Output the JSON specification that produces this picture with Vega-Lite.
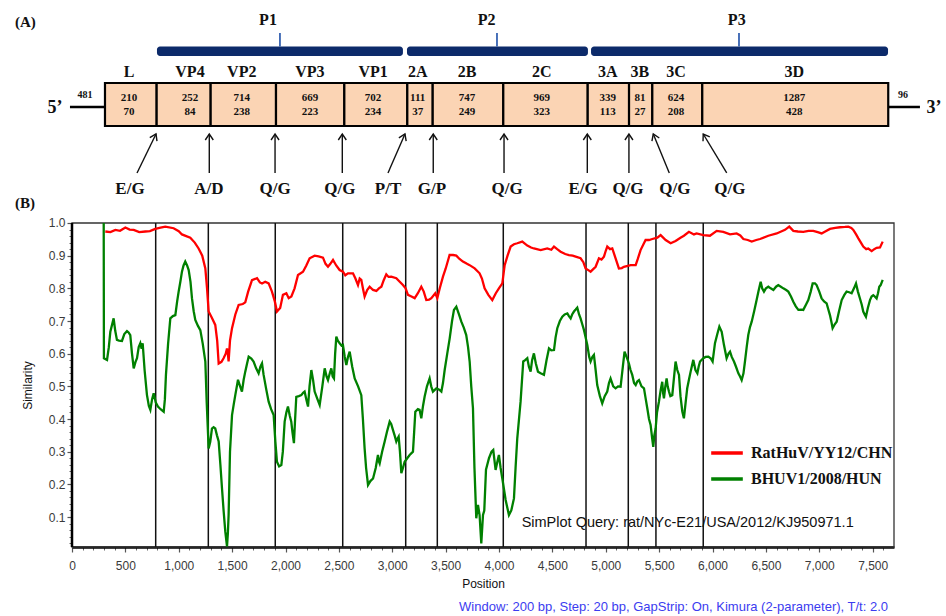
{
  "$schema": "https://vega.github.io/schema/vega-lite/v6.json",
  "width": 822,
  "height": 537,
  "autosize": {"type": "none"},
  "padding": {"left": 72, "top": 10, "right": 52, "bottom": 69},
  "background": "white",
  "config": {"view": {"stroke": null}, "axis": {"grid": false}},
  "datasets": {
    "segments": [
      {"gene": "L", "start": 309, "end": 793, "lx": 534, "nt": "210", "aa": "70"},
      {"gene": "VP4", "start": 793, "end": 1299, "lx": 1105, "nt": "252", "aa": "84"},
      {"gene": "VP2", "start": 1299, "end": 1911, "lx": 1590, "nt": "714", "aa": "238"},
      {"gene": "VP3", "start": 1911, "end": 2551, "lx": 2229, "nt": "669", "aa": "223"},
      {"gene": "VP1", "start": 2551, "end": 3141, "lx": 2820, "nt": "702", "aa": "234"},
      {"gene": "2A", "start": 3141, "end": 3379, "lx": 3238, "nt": "111", "aa": "37"},
      {"gene": "2B", "start": 3379, "end": 4040, "lx": 3700, "nt": "747", "aa": "249"},
      {"gene": "2C", "start": 4040, "end": 4831, "lx": 4400, "nt": "969", "aa": "323"},
      {"gene": "3A", "start": 4831, "end": 5218, "lx": 5018, "nt": "339", "aa": "113"},
      {"gene": "3B", "start": 5218, "end": 5436, "lx": 5320, "nt": "81", "aa": "27"},
      {"gene": "3C", "start": 5436, "end": 5904, "lx": 5658, "nt": "624", "aa": "208"},
      {"gene": "3D", "start": 5904, "end": 7646, "lx": 6766, "nt": "1287", "aa": "428"}
    ],
    "regions": [
      {"name": "P1", "start": 796, "end": 3100, "peak": 1948, "lx": 1836},
      {"name": "P2", "start": 3138, "end": 4833, "peak": 3981, "lx": 3884},
      {"name": "P3", "start": 4862, "end": 7644, "peak": 6248, "lx": 6227}
    ],
    "cleavages": [
      {"site": "E/G", "tip": 787, "base": 609, "lx": 543, "angle": 26},
      {"site": "A/D", "tip": 1286, "base": 1286, "lx": 1283, "angle": 0},
      {"site": "Q/G", "tip": 1902, "base": 1902, "lx": 1902, "angle": 0},
      {"site": "Q/G", "tip": 2532, "base": 2532, "lx": 2510, "angle": 0},
      {"site": "P/T", "tip": 3119, "base": 2960, "lx": 2960, "angle": 24},
      {"site": "G/P", "tip": 3384, "base": 3384, "lx": 3372, "angle": 0},
      {"site": "Q/G", "tip": 4047, "base": 4047, "lx": 4075, "angle": 0},
      {"site": "E/G", "tip": 4827, "base": 4827, "lx": 4787, "angle": 0},
      {"site": "Q/G", "tip": 5217, "base": 5217, "lx": 5208, "angle": 0},
      {"site": "Q/G", "tip": 5445, "base": 5595, "lx": 5648, "angle": -23},
      {"site": "Q/G", "tip": 5913, "base": 6133, "lx": 6162, "angle": -32}
    ],
    "utr": [
      {"end": "5", "from": -19, "to": 309, "len": "481", "lenx": 122, "tagx": -159, "tag": "5’"},
      {"end": "3", "from": 7644, "to": 7943, "len": "96", "lenx": 7784, "tagx": 8074, "tag": "3’"}
    ],
    "dividers": [
      {"position": 784}, {"position": 1277}, {"position": 1904}, {"position": 2536},
      {"position": 3126}, {"position": 3422}, {"position": 4040}, {"position": 4815},
      {"position": 5211}, {"position": 5470}, {"position": 5913}
    ],
    "sim": [
      {"position": 312, "similarity": 0.974, "strain": "RatHuV/YY12/CHN"},
      {"position": 360, "similarity": 0.972, "strain": "RatHuV/YY12/CHN"},
      {"position": 406, "similarity": 0.979, "strain": "RatHuV/YY12/CHN"},
      {"position": 450, "similarity": 0.976, "strain": "RatHuV/YY12/CHN"},
      {"position": 500, "similarity": 0.986, "strain": "RatHuV/YY12/CHN"},
      {"position": 540, "similarity": 0.98, "strain": "RatHuV/YY12/CHN"},
      {"position": 578, "similarity": 0.979, "strain": "RatHuV/YY12/CHN"},
      {"position": 630, "similarity": 0.972, "strain": "RatHuV/YY12/CHN"},
      {"position": 687, "similarity": 0.974, "strain": "RatHuV/YY12/CHN"},
      {"position": 730, "similarity": 0.975, "strain": "RatHuV/YY12/CHN"},
      {"position": 780, "similarity": 0.982, "strain": "RatHuV/YY12/CHN"},
      {"position": 830, "similarity": 0.986, "strain": "RatHuV/YY12/CHN"},
      {"position": 874, "similarity": 0.989, "strain": "RatHuV/YY12/CHN"},
      {"position": 952, "similarity": 0.984, "strain": "RatHuV/YY12/CHN"},
      {"position": 1000, "similarity": 0.975, "strain": "RatHuV/YY12/CHN"},
      {"position": 1030, "similarity": 0.965, "strain": "RatHuV/YY12/CHN"},
      {"position": 1070, "similarity": 0.96, "strain": "RatHuV/YY12/CHN"},
      {"position": 1108, "similarity": 0.955, "strain": "RatHuV/YY12/CHN"},
      {"position": 1150, "similarity": 0.94, "strain": "RatHuV/YY12/CHN"},
      {"position": 1186, "similarity": 0.922, "strain": "RatHuV/YY12/CHN"},
      {"position": 1220, "similarity": 0.9, "strain": "RatHuV/YY12/CHN"},
      {"position": 1249, "similarity": 0.861, "strain": "RatHuV/YY12/CHN"},
      {"position": 1265, "similarity": 0.8, "strain": "RatHuV/YY12/CHN"},
      {"position": 1280, "similarity": 0.729, "strain": "RatHuV/YY12/CHN"},
      {"position": 1310, "similarity": 0.71, "strain": "RatHuV/YY12/CHN"},
      {"position": 1342, "similarity": 0.688, "strain": "RatHuV/YY12/CHN"},
      {"position": 1360, "similarity": 0.64, "strain": "RatHuV/YY12/CHN"},
      {"position": 1374, "similarity": 0.57, "strain": "RatHuV/YY12/CHN"},
      {"position": 1400, "similarity": 0.575, "strain": "RatHuV/YY12/CHN"},
      {"position": 1420, "similarity": 0.586, "strain": "RatHuV/YY12/CHN"},
      {"position": 1440, "similarity": 0.6, "strain": "RatHuV/YY12/CHN"},
      {"position": 1452, "similarity": 0.616, "strain": "RatHuV/YY12/CHN"},
      {"position": 1460, "similarity": 0.6, "strain": "RatHuV/YY12/CHN"},
      {"position": 1467, "similarity": 0.576, "strain": "RatHuV/YY12/CHN"},
      {"position": 1480, "similarity": 0.64, "strain": "RatHuV/YY12/CHN"},
      {"position": 1499, "similarity": 0.678, "strain": "RatHuV/YY12/CHN"},
      {"position": 1530, "similarity": 0.72, "strain": "RatHuV/YY12/CHN"},
      {"position": 1561, "similarity": 0.749, "strain": "RatHuV/YY12/CHN"},
      {"position": 1600, "similarity": 0.752, "strain": "RatHuV/YY12/CHN"},
      {"position": 1623, "similarity": 0.757, "strain": "RatHuV/YY12/CHN"},
      {"position": 1650, "similarity": 0.79, "strain": "RatHuV/YY12/CHN"},
      {"position": 1686, "similarity": 0.825, "strain": "RatHuV/YY12/CHN"},
      {"position": 1733, "similarity": 0.831, "strain": "RatHuV/YY12/CHN"},
      {"position": 1760, "similarity": 0.818, "strain": "RatHuV/YY12/CHN"},
      {"position": 1780, "similarity": 0.815, "strain": "RatHuV/YY12/CHN"},
      {"position": 1810, "similarity": 0.82, "strain": "RatHuV/YY12/CHN"},
      {"position": 1842, "similarity": 0.815, "strain": "RatHuV/YY12/CHN"},
      {"position": 1873, "similarity": 0.79, "strain": "RatHuV/YY12/CHN"},
      {"position": 1900, "similarity": 0.76, "strain": "RatHuV/YY12/CHN"},
      {"position": 1920, "similarity": 0.729, "strain": "RatHuV/YY12/CHN"},
      {"position": 1950, "similarity": 0.74, "strain": "RatHuV/YY12/CHN"},
      {"position": 1976, "similarity": 0.78, "strain": "RatHuV/YY12/CHN"},
      {"position": 2008, "similarity": 0.785, "strain": "RatHuV/YY12/CHN"},
      {"position": 2030, "similarity": 0.77, "strain": "RatHuV/YY12/CHN"},
      {"position": 2055, "similarity": 0.775, "strain": "RatHuV/YY12/CHN"},
      {"position": 2085, "similarity": 0.8, "strain": "RatHuV/YY12/CHN"},
      {"position": 2117, "similarity": 0.841, "strain": "RatHuV/YY12/CHN"},
      {"position": 2164, "similarity": 0.851, "strain": "RatHuV/YY12/CHN"},
      {"position": 2195, "similarity": 0.87, "strain": "RatHuV/YY12/CHN"},
      {"position": 2226, "similarity": 0.892, "strain": "RatHuV/YY12/CHN"},
      {"position": 2273, "similarity": 0.9, "strain": "RatHuV/YY12/CHN"},
      {"position": 2310, "similarity": 0.898, "strain": "RatHuV/YY12/CHN"},
      {"position": 2351, "similarity": 0.894, "strain": "RatHuV/YY12/CHN"},
      {"position": 2375, "similarity": 0.875, "strain": "RatHuV/YY12/CHN"},
      {"position": 2398, "similarity": 0.866, "strain": "RatHuV/YY12/CHN"},
      {"position": 2420, "similarity": 0.875, "strain": "RatHuV/YY12/CHN"},
      {"position": 2445, "similarity": 0.887, "strain": "RatHuV/YY12/CHN"},
      {"position": 2475, "similarity": 0.87, "strain": "RatHuV/YY12/CHN"},
      {"position": 2507, "similarity": 0.856, "strain": "RatHuV/YY12/CHN"},
      {"position": 2538, "similarity": 0.851, "strain": "RatHuV/YY12/CHN"},
      {"position": 2560, "similarity": 0.84, "strain": "RatHuV/YY12/CHN"},
      {"position": 2585, "similarity": 0.846, "strain": "RatHuV/YY12/CHN"},
      {"position": 2632, "similarity": 0.846, "strain": "RatHuV/YY12/CHN"},
      {"position": 2655, "similarity": 0.83, "strain": "RatHuV/YY12/CHN"},
      {"position": 2679, "similarity": 0.81, "strain": "RatHuV/YY12/CHN"},
      {"position": 2695, "similarity": 0.83, "strain": "RatHuV/YY12/CHN"},
      {"position": 2710, "similarity": 0.826, "strain": "RatHuV/YY12/CHN"},
      {"position": 2725, "similarity": 0.8, "strain": "RatHuV/YY12/CHN"},
      {"position": 2741, "similarity": 0.775, "strain": "RatHuV/YY12/CHN"},
      {"position": 2765, "similarity": 0.795, "strain": "RatHuV/YY12/CHN"},
      {"position": 2788, "similarity": 0.805, "strain": "RatHuV/YY12/CHN"},
      {"position": 2820, "similarity": 0.795, "strain": "RatHuV/YY12/CHN"},
      {"position": 2851, "similarity": 0.792, "strain": "RatHuV/YY12/CHN"},
      {"position": 2875, "similarity": 0.8, "strain": "RatHuV/YY12/CHN"},
      {"position": 2898, "similarity": 0.805, "strain": "RatHuV/YY12/CHN"},
      {"position": 2920, "similarity": 0.825, "strain": "RatHuV/YY12/CHN"},
      {"position": 2944, "similarity": 0.843, "strain": "RatHuV/YY12/CHN"},
      {"position": 2965, "similarity": 0.835, "strain": "RatHuV/YY12/CHN"},
      {"position": 2991, "similarity": 0.836, "strain": "RatHuV/YY12/CHN"},
      {"position": 3038, "similarity": 0.831, "strain": "RatHuV/YY12/CHN"},
      {"position": 3070, "similarity": 0.82, "strain": "RatHuV/YY12/CHN"},
      {"position": 3100, "similarity": 0.81, "strain": "RatHuV/YY12/CHN"},
      {"position": 3125, "similarity": 0.8, "strain": "RatHuV/YY12/CHN"},
      {"position": 3147, "similarity": 0.78, "strain": "RatHuV/YY12/CHN"},
      {"position": 3180, "similarity": 0.775, "strain": "RatHuV/YY12/CHN"},
      {"position": 3210, "similarity": 0.77, "strain": "RatHuV/YY12/CHN"},
      {"position": 3240, "similarity": 0.785, "strain": "RatHuV/YY12/CHN"},
      {"position": 3272, "similarity": 0.805, "strain": "RatHuV/YY12/CHN"},
      {"position": 3295, "similarity": 0.79, "strain": "RatHuV/YY12/CHN"},
      {"position": 3319, "similarity": 0.764, "strain": "RatHuV/YY12/CHN"},
      {"position": 3345, "similarity": 0.765, "strain": "RatHuV/YY12/CHN"},
      {"position": 3366, "similarity": 0.77, "strain": "RatHuV/YY12/CHN"},
      {"position": 3403, "similarity": 0.785, "strain": "RatHuV/YY12/CHN"},
      {"position": 3422, "similarity": 0.77, "strain": "RatHuV/YY12/CHN"},
      {"position": 3445, "similarity": 0.8, "strain": "RatHuV/YY12/CHN"},
      {"position": 3475, "similarity": 0.836, "strain": "RatHuV/YY12/CHN"},
      {"position": 3500, "similarity": 0.86, "strain": "RatHuV/YY12/CHN"},
      {"position": 3537, "similarity": 0.902, "strain": "RatHuV/YY12/CHN"},
      {"position": 3570, "similarity": 0.902, "strain": "RatHuV/YY12/CHN"},
      {"position": 3600, "similarity": 0.9, "strain": "RatHuV/YY12/CHN"},
      {"position": 3630, "similarity": 0.89, "strain": "RatHuV/YY12/CHN"},
      {"position": 3662, "similarity": 0.882, "strain": "RatHuV/YY12/CHN"},
      {"position": 3700, "similarity": 0.875, "strain": "RatHuV/YY12/CHN"},
      {"position": 3725, "similarity": 0.871, "strain": "RatHuV/YY12/CHN"},
      {"position": 3772, "similarity": 0.861, "strain": "RatHuV/YY12/CHN"},
      {"position": 3818, "similarity": 0.846, "strain": "RatHuV/YY12/CHN"},
      {"position": 3840, "similarity": 0.83, "strain": "RatHuV/YY12/CHN"},
      {"position": 3865, "similarity": 0.8, "strain": "RatHuV/YY12/CHN"},
      {"position": 3900, "similarity": 0.78, "strain": "RatHuV/YY12/CHN"},
      {"position": 3937, "similarity": 0.764, "strain": "RatHuV/YY12/CHN"},
      {"position": 3970, "similarity": 0.785, "strain": "RatHuV/YY12/CHN"},
      {"position": 3999, "similarity": 0.8, "strain": "RatHuV/YY12/CHN"},
      {"position": 4031, "similarity": 0.815, "strain": "RatHuV/YY12/CHN"},
      {"position": 4053, "similarity": 0.871, "strain": "RatHuV/YY12/CHN"},
      {"position": 4080, "similarity": 0.9, "strain": "RatHuV/YY12/CHN"},
      {"position": 4109, "similarity": 0.928, "strain": "RatHuV/YY12/CHN"},
      {"position": 4140, "similarity": 0.935, "strain": "RatHuV/YY12/CHN"},
      {"position": 4171, "similarity": 0.938, "strain": "RatHuV/YY12/CHN"},
      {"position": 4218, "similarity": 0.943, "strain": "RatHuV/YY12/CHN"},
      {"position": 4265, "similarity": 0.931, "strain": "RatHuV/YY12/CHN"},
      {"position": 4300, "similarity": 0.925, "strain": "RatHuV/YY12/CHN"},
      {"position": 4327, "similarity": 0.922, "strain": "RatHuV/YY12/CHN"},
      {"position": 4390, "similarity": 0.917, "strain": "RatHuV/YY12/CHN"},
      {"position": 4452, "similarity": 0.922, "strain": "RatHuV/YY12/CHN"},
      {"position": 4490, "similarity": 0.918, "strain": "RatHuV/YY12/CHN"},
      {"position": 4515, "similarity": 0.928, "strain": "RatHuV/YY12/CHN"},
      {"position": 4545, "similarity": 0.92, "strain": "RatHuV/YY12/CHN"},
      {"position": 4577, "similarity": 0.912, "strain": "RatHuV/YY12/CHN"},
      {"position": 4620, "similarity": 0.905, "strain": "RatHuV/YY12/CHN"},
      {"position": 4655, "similarity": 0.902, "strain": "RatHuV/YY12/CHN"},
      {"position": 4690, "similarity": 0.9, "strain": "RatHuV/YY12/CHN"},
      {"position": 4718, "similarity": 0.897, "strain": "RatHuV/YY12/CHN"},
      {"position": 4764, "similarity": 0.892, "strain": "RatHuV/YY12/CHN"},
      {"position": 4790, "similarity": 0.88, "strain": "RatHuV/YY12/CHN"},
      {"position": 4811, "similarity": 0.861, "strain": "RatHuV/YY12/CHN"},
      {"position": 4840, "similarity": 0.855, "strain": "RatHuV/YY12/CHN"},
      {"position": 4858, "similarity": 0.851, "strain": "RatHuV/YY12/CHN"},
      {"position": 4880, "similarity": 0.858, "strain": "RatHuV/YY12/CHN"},
      {"position": 4905, "similarity": 0.866, "strain": "RatHuV/YY12/CHN"},
      {"position": 4936, "similarity": 0.892, "strain": "RatHuV/YY12/CHN"},
      {"position": 4960, "similarity": 0.888, "strain": "RatHuV/YY12/CHN"},
      {"position": 4983, "similarity": 0.897, "strain": "RatHuV/YY12/CHN"},
      {"position": 5000, "similarity": 0.915, "strain": "RatHuV/YY12/CHN"},
      {"position": 5014, "similarity": 0.928, "strain": "RatHuV/YY12/CHN"},
      {"position": 5040, "similarity": 0.92, "strain": "RatHuV/YY12/CHN"},
      {"position": 5061, "similarity": 0.922, "strain": "RatHuV/YY12/CHN"},
      {"position": 5092, "similarity": 0.892, "strain": "RatHuV/YY12/CHN"},
      {"position": 5123, "similarity": 0.861, "strain": "RatHuV/YY12/CHN"},
      {"position": 5150, "similarity": 0.862, "strain": "RatHuV/YY12/CHN"},
      {"position": 5170, "similarity": 0.866, "strain": "RatHuV/YY12/CHN"},
      {"position": 5233, "similarity": 0.871, "strain": "RatHuV/YY12/CHN"},
      {"position": 5280, "similarity": 0.871, "strain": "RatHuV/YY12/CHN"},
      {"position": 5300, "similarity": 0.89, "strain": "RatHuV/YY12/CHN"},
      {"position": 5326, "similarity": 0.917, "strain": "RatHuV/YY12/CHN"},
      {"position": 5373, "similarity": 0.948, "strain": "RatHuV/YY12/CHN"},
      {"position": 5405, "similarity": 0.948, "strain": "RatHuV/YY12/CHN"},
      {"position": 5436, "similarity": 0.951, "strain": "RatHuV/YY12/CHN"},
      {"position": 5483, "similarity": 0.955, "strain": "RatHuV/YY12/CHN"},
      {"position": 5514, "similarity": 0.963, "strain": "RatHuV/YY12/CHN"},
      {"position": 5561, "similarity": 0.948, "strain": "RatHuV/YY12/CHN"},
      {"position": 5608, "similarity": 0.938, "strain": "RatHuV/YY12/CHN"},
      {"position": 5654, "similarity": 0.945, "strain": "RatHuV/YY12/CHN"},
      {"position": 5700, "similarity": 0.955, "strain": "RatHuV/YY12/CHN"},
      {"position": 5732, "similarity": 0.961, "strain": "RatHuV/YY12/CHN"},
      {"position": 5779, "similarity": 0.973, "strain": "RatHuV/YY12/CHN"},
      {"position": 5826, "similarity": 0.965, "strain": "RatHuV/YY12/CHN"},
      {"position": 5851, "similarity": 0.968, "strain": "RatHuV/YY12/CHN"},
      {"position": 5914, "similarity": 0.963, "strain": "RatHuV/YY12/CHN"},
      {"position": 5976, "similarity": 0.961, "strain": "RatHuV/YY12/CHN"},
      {"position": 6039, "similarity": 0.976, "strain": "RatHuV/YY12/CHN"},
      {"position": 6101, "similarity": 0.973, "strain": "RatHuV/YY12/CHN"},
      {"position": 6164, "similarity": 0.965, "strain": "RatHuV/YY12/CHN"},
      {"position": 6226, "similarity": 0.968, "strain": "RatHuV/YY12/CHN"},
      {"position": 6260, "similarity": 0.962, "strain": "RatHuV/YY12/CHN"},
      {"position": 6289, "similarity": 0.951, "strain": "RatHuV/YY12/CHN"},
      {"position": 6330, "similarity": 0.948, "strain": "RatHuV/YY12/CHN"},
      {"position": 6367, "similarity": 0.943, "strain": "RatHuV/YY12/CHN"},
      {"position": 6410, "similarity": 0.948, "strain": "RatHuV/YY12/CHN"},
      {"position": 6445, "similarity": 0.951, "strain": "RatHuV/YY12/CHN"},
      {"position": 6523, "similarity": 0.961, "strain": "RatHuV/YY12/CHN"},
      {"position": 6601, "similarity": 0.968, "strain": "RatHuV/YY12/CHN"},
      {"position": 6679, "similarity": 0.979, "strain": "RatHuV/YY12/CHN"},
      {"position": 6719, "similarity": 0.989, "strain": "RatHuV/YY12/CHN"},
      {"position": 6757, "similarity": 0.976, "strain": "RatHuV/YY12/CHN"},
      {"position": 6800, "similarity": 0.974, "strain": "RatHuV/YY12/CHN"},
      {"position": 6850, "similarity": 0.973, "strain": "RatHuV/YY12/CHN"},
      {"position": 6900, "similarity": 0.976, "strain": "RatHuV/YY12/CHN"},
      {"position": 6944, "similarity": 0.976, "strain": "RatHuV/YY12/CHN"},
      {"position": 6985, "similarity": 0.972, "strain": "RatHuV/YY12/CHN"},
      {"position": 7022, "similarity": 0.968, "strain": "RatHuV/YY12/CHN"},
      {"position": 7060, "similarity": 0.975, "strain": "RatHuV/YY12/CHN"},
      {"position": 7100, "similarity": 0.982, "strain": "RatHuV/YY12/CHN"},
      {"position": 7150, "similarity": 0.985, "strain": "RatHuV/YY12/CHN"},
      {"position": 7194, "similarity": 0.987, "strain": "RatHuV/YY12/CHN"},
      {"position": 7240, "similarity": 0.988, "strain": "RatHuV/YY12/CHN"},
      {"position": 7272, "similarity": 0.989, "strain": "RatHuV/YY12/CHN"},
      {"position": 7300, "similarity": 0.985, "strain": "RatHuV/YY12/CHN"},
      {"position": 7319, "similarity": 0.979, "strain": "RatHuV/YY12/CHN"},
      {"position": 7345, "similarity": 0.965, "strain": "RatHuV/YY12/CHN"},
      {"position": 7366, "similarity": 0.953, "strain": "RatHuV/YY12/CHN"},
      {"position": 7390, "similarity": 0.94, "strain": "RatHuV/YY12/CHN"},
      {"position": 7412, "similarity": 0.928, "strain": "RatHuV/YY12/CHN"},
      {"position": 7440, "similarity": 0.92, "strain": "RatHuV/YY12/CHN"},
      {"position": 7459, "similarity": 0.922, "strain": "RatHuV/YY12/CHN"},
      {"position": 7491, "similarity": 0.914, "strain": "RatHuV/YY12/CHN"},
      {"position": 7515, "similarity": 0.92, "strain": "RatHuV/YY12/CHN"},
      {"position": 7537, "similarity": 0.924, "strain": "RatHuV/YY12/CHN"},
      {"position": 7569, "similarity": 0.925, "strain": "RatHuV/YY12/CHN"},
      {"position": 7594, "similarity": 0.943, "strain": "RatHuV/YY12/CHN"},
      {"position": 297, "similarity": 1.0, "strain": "BHUV1/2008/HUN"},
      {"position": 299, "similarity": 0.586, "strain": "BHUV1/2008/HUN"},
      {"position": 328, "similarity": 0.581, "strain": "BHUV1/2008/HUN"},
      {"position": 345, "similarity": 0.62, "strain": "BHUV1/2008/HUN"},
      {"position": 359, "similarity": 0.667, "strain": "BHUV1/2008/HUN"},
      {"position": 390, "similarity": 0.708, "strain": "BHUV1/2008/HUN"},
      {"position": 405, "similarity": 0.67, "strain": "BHUV1/2008/HUN"},
      {"position": 421, "similarity": 0.642, "strain": "BHUV1/2008/HUN"},
      {"position": 440, "similarity": 0.64, "strain": "BHUV1/2008/HUN"},
      {"position": 468, "similarity": 0.639, "strain": "BHUV1/2008/HUN"},
      {"position": 490, "similarity": 0.66, "strain": "BHUV1/2008/HUN"},
      {"position": 515, "similarity": 0.669, "strain": "BHUV1/2008/HUN"},
      {"position": 530, "similarity": 0.665, "strain": "BHUV1/2008/HUN"},
      {"position": 546, "similarity": 0.657, "strain": "BHUV1/2008/HUN"},
      {"position": 562, "similarity": 0.6, "strain": "BHUV1/2008/HUN"},
      {"position": 578, "similarity": 0.555, "strain": "BHUV1/2008/HUN"},
      {"position": 595, "similarity": 0.575, "strain": "BHUV1/2008/HUN"},
      {"position": 609, "similarity": 0.586, "strain": "BHUV1/2008/HUN"},
      {"position": 625, "similarity": 0.62, "strain": "BHUV1/2008/HUN"},
      {"position": 640, "similarity": 0.632, "strain": "BHUV1/2008/HUN"},
      {"position": 652, "similarity": 0.615, "strain": "BHUV1/2008/HUN"},
      {"position": 662, "similarity": 0.632, "strain": "BHUV1/2008/HUN"},
      {"position": 680, "similarity": 0.55, "strain": "BHUV1/2008/HUN"},
      {"position": 702, "similarity": 0.474, "strain": "BHUV1/2008/HUN"},
      {"position": 720, "similarity": 0.44, "strain": "BHUV1/2008/HUN"},
      {"position": 734, "similarity": 0.428, "strain": "BHUV1/2008/HUN"},
      {"position": 750, "similarity": 0.46, "strain": "BHUV1/2008/HUN"},
      {"position": 765, "similarity": 0.479, "strain": "BHUV1/2008/HUN"},
      {"position": 785, "similarity": 0.45, "strain": "BHUV1/2008/HUN"},
      {"position": 805, "similarity": 0.438, "strain": "BHUV1/2008/HUN"},
      {"position": 830, "similarity": 0.43, "strain": "BHUV1/2008/HUN"},
      {"position": 859, "similarity": 0.422, "strain": "BHUV1/2008/HUN"},
      {"position": 870, "similarity": 0.46, "strain": "BHUV1/2008/HUN"},
      {"position": 880, "similarity": 0.535, "strain": "BHUV1/2008/HUN"},
      {"position": 900, "similarity": 0.63, "strain": "BHUV1/2008/HUN"},
      {"position": 921, "similarity": 0.708, "strain": "BHUV1/2008/HUN"},
      {"position": 945, "similarity": 0.715, "strain": "BHUV1/2008/HUN"},
      {"position": 968, "similarity": 0.718, "strain": "BHUV1/2008/HUN"},
      {"position": 985, "similarity": 0.76, "strain": "BHUV1/2008/HUN"},
      {"position": 999, "similarity": 0.79, "strain": "BHUV1/2008/HUN"},
      {"position": 1015, "similarity": 0.82, "strain": "BHUV1/2008/HUN"},
      {"position": 1030, "similarity": 0.851, "strain": "BHUV1/2008/HUN"},
      {"position": 1045, "similarity": 0.87, "strain": "BHUV1/2008/HUN"},
      {"position": 1061, "similarity": 0.882, "strain": "BHUV1/2008/HUN"},
      {"position": 1078, "similarity": 0.87, "strain": "BHUV1/2008/HUN"},
      {"position": 1093, "similarity": 0.856, "strain": "BHUV1/2008/HUN"},
      {"position": 1110, "similarity": 0.82, "strain": "BHUV1/2008/HUN"},
      {"position": 1124, "similarity": 0.769, "strain": "BHUV1/2008/HUN"},
      {"position": 1140, "similarity": 0.73, "strain": "BHUV1/2008/HUN"},
      {"position": 1155, "similarity": 0.703, "strain": "BHUV1/2008/HUN"},
      {"position": 1180, "similarity": 0.685, "strain": "BHUV1/2008/HUN"},
      {"position": 1202, "similarity": 0.672, "strain": "BHUV1/2008/HUN"},
      {"position": 1225, "similarity": 0.63, "strain": "BHUV1/2008/HUN"},
      {"position": 1249, "similarity": 0.576, "strain": "BHUV1/2008/HUN"},
      {"position": 1262, "similarity": 0.45, "strain": "BHUV1/2008/HUN"},
      {"position": 1280, "similarity": 0.31, "strain": "BHUV1/2008/HUN"},
      {"position": 1295, "similarity": 0.33, "strain": "BHUV1/2008/HUN"},
      {"position": 1311, "similarity": 0.371, "strain": "BHUV1/2008/HUN"},
      {"position": 1326, "similarity": 0.375, "strain": "BHUV1/2008/HUN"},
      {"position": 1342, "similarity": 0.371, "strain": "BHUV1/2008/HUN"},
      {"position": 1358, "similarity": 0.35, "strain": "BHUV1/2008/HUN"},
      {"position": 1374, "similarity": 0.331, "strain": "BHUV1/2008/HUN"},
      {"position": 1390, "similarity": 0.26, "strain": "BHUV1/2008/HUN"},
      {"position": 1405, "similarity": 0.188, "strain": "BHUV1/2008/HUN"},
      {"position": 1420, "similarity": 0.12, "strain": "BHUV1/2008/HUN"},
      {"position": 1436, "similarity": 0.055, "strain": "BHUV1/2008/HUN"},
      {"position": 1452, "similarity": 0.01, "strain": "BHUV1/2008/HUN"},
      {"position": 1460, "similarity": 0.05, "strain": "BHUV1/2008/HUN"},
      {"position": 1467, "similarity": 0.106, "strain": "BHUV1/2008/HUN"},
      {"position": 1480, "similarity": 0.3, "strain": "BHUV1/2008/HUN"},
      {"position": 1499, "similarity": 0.412, "strain": "BHUV1/2008/HUN"},
      {"position": 1515, "similarity": 0.445, "strain": "BHUV1/2008/HUN"},
      {"position": 1530, "similarity": 0.474, "strain": "BHUV1/2008/HUN"},
      {"position": 1555, "similarity": 0.52, "strain": "BHUV1/2008/HUN"},
      {"position": 1575, "similarity": 0.5, "strain": "BHUV1/2008/HUN"},
      {"position": 1592, "similarity": 0.484, "strain": "BHUV1/2008/HUN"},
      {"position": 1608, "similarity": 0.52, "strain": "BHUV1/2008/HUN"},
      {"position": 1623, "similarity": 0.545, "strain": "BHUV1/2008/HUN"},
      {"position": 1640, "similarity": 0.57, "strain": "BHUV1/2008/HUN"},
      {"position": 1655, "similarity": 0.591, "strain": "BHUV1/2008/HUN"},
      {"position": 1680, "similarity": 0.585, "strain": "BHUV1/2008/HUN"},
      {"position": 1701, "similarity": 0.576, "strain": "BHUV1/2008/HUN"},
      {"position": 1725, "similarity": 0.555, "strain": "BHUV1/2008/HUN"},
      {"position": 1748, "similarity": 0.54, "strain": "BHUV1/2008/HUN"},
      {"position": 1765, "similarity": 0.56, "strain": "BHUV1/2008/HUN"},
      {"position": 1780, "similarity": 0.57, "strain": "BHUV1/2008/HUN"},
      {"position": 1795, "similarity": 0.535, "strain": "BHUV1/2008/HUN"},
      {"position": 1820, "similarity": 0.49, "strain": "BHUV1/2008/HUN"},
      {"position": 1842, "similarity": 0.453, "strain": "BHUV1/2008/HUN"},
      {"position": 1865, "similarity": 0.43, "strain": "BHUV1/2008/HUN"},
      {"position": 1889, "similarity": 0.412, "strain": "BHUV1/2008/HUN"},
      {"position": 1905, "similarity": 0.33, "strain": "BHUV1/2008/HUN"},
      {"position": 1920, "similarity": 0.269, "strain": "BHUV1/2008/HUN"},
      {"position": 1940, "similarity": 0.255, "strain": "BHUV1/2008/HUN"},
      {"position": 1961, "similarity": 0.259, "strain": "BHUV1/2008/HUN"},
      {"position": 1975, "similarity": 0.3, "strain": "BHUV1/2008/HUN"},
      {"position": 1992, "similarity": 0.392, "strain": "BHUV1/2008/HUN"},
      {"position": 2008, "similarity": 0.42, "strain": "BHUV1/2008/HUN"},
      {"position": 2023, "similarity": 0.438, "strain": "BHUV1/2008/HUN"},
      {"position": 2040, "similarity": 0.41, "strain": "BHUV1/2008/HUN"},
      {"position": 2054, "similarity": 0.392, "strain": "BHUV1/2008/HUN"},
      {"position": 2065, "similarity": 0.36, "strain": "BHUV1/2008/HUN"},
      {"position": 2079, "similarity": 0.326, "strain": "BHUV1/2008/HUN"},
      {"position": 2090, "similarity": 0.4, "strain": "BHUV1/2008/HUN"},
      {"position": 2101, "similarity": 0.468, "strain": "BHUV1/2008/HUN"},
      {"position": 2125, "similarity": 0.47, "strain": "BHUV1/2008/HUN"},
      {"position": 2148, "similarity": 0.473, "strain": "BHUV1/2008/HUN"},
      {"position": 2165, "similarity": 0.48, "strain": "BHUV1/2008/HUN"},
      {"position": 2179, "similarity": 0.484, "strain": "BHUV1/2008/HUN"},
      {"position": 2195, "similarity": 0.46, "strain": "BHUV1/2008/HUN"},
      {"position": 2211, "similarity": 0.438, "strain": "BHUV1/2008/HUN"},
      {"position": 2225, "similarity": 0.5, "strain": "BHUV1/2008/HUN"},
      {"position": 2242, "similarity": 0.55, "strain": "BHUV1/2008/HUN"},
      {"position": 2258, "similarity": 0.52, "strain": "BHUV1/2008/HUN"},
      {"position": 2273, "similarity": 0.484, "strain": "BHUV1/2008/HUN"},
      {"position": 2300, "similarity": 0.46, "strain": "BHUV1/2008/HUN"},
      {"position": 2320, "similarity": 0.443, "strain": "BHUV1/2008/HUN"},
      {"position": 2345, "similarity": 0.5, "strain": "BHUV1/2008/HUN"},
      {"position": 2367, "similarity": 0.555, "strain": "BHUV1/2008/HUN"},
      {"position": 2385, "similarity": 0.53, "strain": "BHUV1/2008/HUN"},
      {"position": 2398, "similarity": 0.519, "strain": "BHUV1/2008/HUN"},
      {"position": 2415, "similarity": 0.54, "strain": "BHUV1/2008/HUN"},
      {"position": 2429, "similarity": 0.555, "strain": "BHUV1/2008/HUN"},
      {"position": 2442, "similarity": 0.53, "strain": "BHUV1/2008/HUN"},
      {"position": 2454, "similarity": 0.524, "strain": "BHUV1/2008/HUN"},
      {"position": 2465, "similarity": 0.6, "strain": "BHUV1/2008/HUN"},
      {"position": 2476, "similarity": 0.652, "strain": "BHUV1/2008/HUN"},
      {"position": 2490, "similarity": 0.64, "strain": "BHUV1/2008/HUN"},
      {"position": 2507, "similarity": 0.632, "strain": "BHUV1/2008/HUN"},
      {"position": 2525, "similarity": 0.625, "strain": "BHUV1/2008/HUN"},
      {"position": 2538, "similarity": 0.627, "strain": "BHUV1/2008/HUN"},
      {"position": 2555, "similarity": 0.59, "strain": "BHUV1/2008/HUN"},
      {"position": 2570, "similarity": 0.565, "strain": "BHUV1/2008/HUN"},
      {"position": 2585, "similarity": 0.59, "strain": "BHUV1/2008/HUN"},
      {"position": 2601, "similarity": 0.606, "strain": "BHUV1/2008/HUN"},
      {"position": 2625, "similarity": 0.56, "strain": "BHUV1/2008/HUN"},
      {"position": 2648, "similarity": 0.524, "strain": "BHUV1/2008/HUN"},
      {"position": 2680, "similarity": 0.5, "strain": "BHUV1/2008/HUN"},
      {"position": 2710, "similarity": 0.473, "strain": "BHUV1/2008/HUN"},
      {"position": 2725, "similarity": 0.4, "strain": "BHUV1/2008/HUN"},
      {"position": 2741, "similarity": 0.31, "strain": "BHUV1/2008/HUN"},
      {"position": 2755, "similarity": 0.25, "strain": "BHUV1/2008/HUN"},
      {"position": 2773, "similarity": 0.198, "strain": "BHUV1/2008/HUN"},
      {"position": 2795, "similarity": 0.21, "strain": "BHUV1/2008/HUN"},
      {"position": 2820, "similarity": 0.218, "strain": "BHUV1/2008/HUN"},
      {"position": 2845, "similarity": 0.25, "strain": "BHUV1/2008/HUN"},
      {"position": 2866, "similarity": 0.29, "strain": "BHUV1/2008/HUN"},
      {"position": 2875, "similarity": 0.27, "strain": "BHUV1/2008/HUN"},
      {"position": 2882, "similarity": 0.264, "strain": "BHUV1/2008/HUN"},
      {"position": 2905, "similarity": 0.3, "strain": "BHUV1/2008/HUN"},
      {"position": 2929, "similarity": 0.331, "strain": "BHUV1/2008/HUN"},
      {"position": 2950, "similarity": 0.36, "strain": "BHUV1/2008/HUN"},
      {"position": 2976, "similarity": 0.392, "strain": "BHUV1/2008/HUN"},
      {"position": 2990, "similarity": 0.385, "strain": "BHUV1/2008/HUN"},
      {"position": 3007, "similarity": 0.366, "strain": "BHUV1/2008/HUN"},
      {"position": 3022, "similarity": 0.35, "strain": "BHUV1/2008/HUN"},
      {"position": 3038, "similarity": 0.331, "strain": "BHUV1/2008/HUN"},
      {"position": 3050, "similarity": 0.34, "strain": "BHUV1/2008/HUN"},
      {"position": 3060, "similarity": 0.346, "strain": "BHUV1/2008/HUN"},
      {"position": 3072, "similarity": 0.3, "strain": "BHUV1/2008/HUN"},
      {"position": 3085, "similarity": 0.234, "strain": "BHUV1/2008/HUN"},
      {"position": 3100, "similarity": 0.25, "strain": "BHUV1/2008/HUN"},
      {"position": 3116, "similarity": 0.269, "strain": "BHUV1/2008/HUN"},
      {"position": 3140, "similarity": 0.28, "strain": "BHUV1/2008/HUN"},
      {"position": 3163, "similarity": 0.29, "strain": "BHUV1/2008/HUN"},
      {"position": 3194, "similarity": 0.3, "strain": "BHUV1/2008/HUN"},
      {"position": 3205, "similarity": 0.36, "strain": "BHUV1/2008/HUN"},
      {"position": 3216, "similarity": 0.422, "strain": "BHUV1/2008/HUN"},
      {"position": 3240, "similarity": 0.43, "strain": "BHUV1/2008/HUN"},
      {"position": 3256, "similarity": 0.428, "strain": "BHUV1/2008/HUN"},
      {"position": 3272, "similarity": 0.402, "strain": "BHUV1/2008/HUN"},
      {"position": 3288, "similarity": 0.44, "strain": "BHUV1/2008/HUN"},
      {"position": 3303, "similarity": 0.468, "strain": "BHUV1/2008/HUN"},
      {"position": 3325, "similarity": 0.5, "strain": "BHUV1/2008/HUN"},
      {"position": 3350, "similarity": 0.524, "strain": "BHUV1/2008/HUN"},
      {"position": 3365, "similarity": 0.5, "strain": "BHUV1/2008/HUN"},
      {"position": 3381, "similarity": 0.484, "strain": "BHUV1/2008/HUN"},
      {"position": 3413, "similarity": 0.494, "strain": "BHUV1/2008/HUN"},
      {"position": 3440, "similarity": 0.49, "strain": "BHUV1/2008/HUN"},
      {"position": 3460, "similarity": 0.484, "strain": "BHUV1/2008/HUN"},
      {"position": 3475, "similarity": 0.51, "strain": "BHUV1/2008/HUN"},
      {"position": 3491, "similarity": 0.55, "strain": "BHUV1/2008/HUN"},
      {"position": 3515, "similarity": 0.6, "strain": "BHUV1/2008/HUN"},
      {"position": 3538, "similarity": 0.647, "strain": "BHUV1/2008/HUN"},
      {"position": 3560, "similarity": 0.7, "strain": "BHUV1/2008/HUN"},
      {"position": 3578, "similarity": 0.734, "strain": "BHUV1/2008/HUN"},
      {"position": 3600, "similarity": 0.744, "strain": "BHUV1/2008/HUN"},
      {"position": 3625, "similarity": 0.72, "strain": "BHUV1/2008/HUN"},
      {"position": 3647, "similarity": 0.698, "strain": "BHUV1/2008/HUN"},
      {"position": 3670, "similarity": 0.68, "strain": "BHUV1/2008/HUN"},
      {"position": 3693, "similarity": 0.657, "strain": "BHUV1/2008/HUN"},
      {"position": 3710, "similarity": 0.62, "strain": "BHUV1/2008/HUN"},
      {"position": 3725, "similarity": 0.576, "strain": "BHUV1/2008/HUN"},
      {"position": 3740, "similarity": 0.5, "strain": "BHUV1/2008/HUN"},
      {"position": 3756, "similarity": 0.433, "strain": "BHUV1/2008/HUN"},
      {"position": 3770, "similarity": 0.25, "strain": "BHUV1/2008/HUN"},
      {"position": 3787, "similarity": 0.096, "strain": "BHUV1/2008/HUN"},
      {"position": 3803, "similarity": 0.137, "strain": "BHUV1/2008/HUN"},
      {"position": 3818, "similarity": 0.106, "strain": "BHUV1/2008/HUN"},
      {"position": 3834, "similarity": 0.019, "strain": "BHUV1/2008/HUN"},
      {"position": 3850, "similarity": 0.106, "strain": "BHUV1/2008/HUN"},
      {"position": 3862, "similarity": 0.12, "strain": "BHUV1/2008/HUN"},
      {"position": 3878, "similarity": 0.245, "strain": "BHUV1/2008/HUN"},
      {"position": 3906, "similarity": 0.28, "strain": "BHUV1/2008/HUN"},
      {"position": 3930, "similarity": 0.3, "strain": "BHUV1/2008/HUN"},
      {"position": 3946, "similarity": 0.305, "strain": "BHUV1/2008/HUN"},
      {"position": 3968, "similarity": 0.244, "strain": "BHUV1/2008/HUN"},
      {"position": 3985, "similarity": 0.27, "strain": "BHUV1/2008/HUN"},
      {"position": 3999, "similarity": 0.29, "strain": "BHUV1/2008/HUN"},
      {"position": 4015, "similarity": 0.25, "strain": "BHUV1/2008/HUN"},
      {"position": 4031, "similarity": 0.218, "strain": "BHUV1/2008/HUN"},
      {"position": 4062, "similarity": 0.152, "strain": "BHUV1/2008/HUN"},
      {"position": 4093, "similarity": 0.106, "strain": "BHUV1/2008/HUN"},
      {"position": 4115, "similarity": 0.12, "strain": "BHUV1/2008/HUN"},
      {"position": 4140, "similarity": 0.157, "strain": "BHUV1/2008/HUN"},
      {"position": 4155, "similarity": 0.25, "strain": "BHUV1/2008/HUN"},
      {"position": 4171, "similarity": 0.341, "strain": "BHUV1/2008/HUN"},
      {"position": 4202, "similarity": 0.453, "strain": "BHUV1/2008/HUN"},
      {"position": 4227, "similarity": 0.576, "strain": "BHUV1/2008/HUN"},
      {"position": 4245, "similarity": 0.58, "strain": "BHUV1/2008/HUN"},
      {"position": 4265, "similarity": 0.586, "strain": "BHUV1/2008/HUN"},
      {"position": 4280, "similarity": 0.56, "strain": "BHUV1/2008/HUN"},
      {"position": 4296, "similarity": 0.545, "strain": "BHUV1/2008/HUN"},
      {"position": 4310, "similarity": 0.58, "strain": "BHUV1/2008/HUN"},
      {"position": 4327, "similarity": 0.601, "strain": "BHUV1/2008/HUN"},
      {"position": 4345, "similarity": 0.57, "strain": "BHUV1/2008/HUN"},
      {"position": 4365, "similarity": 0.545, "strain": "BHUV1/2008/HUN"},
      {"position": 4390, "similarity": 0.54, "strain": "BHUV1/2008/HUN"},
      {"position": 4421, "similarity": 0.535, "strain": "BHUV1/2008/HUN"},
      {"position": 4445, "similarity": 0.58, "strain": "BHUV1/2008/HUN"},
      {"position": 4468, "similarity": 0.616, "strain": "BHUV1/2008/HUN"},
      {"position": 4490, "similarity": 0.61, "strain": "BHUV1/2008/HUN"},
      {"position": 4515, "similarity": 0.611, "strain": "BHUV1/2008/HUN"},
      {"position": 4530, "similarity": 0.65, "strain": "BHUV1/2008/HUN"},
      {"position": 4546, "similarity": 0.678, "strain": "BHUV1/2008/HUN"},
      {"position": 4570, "similarity": 0.7, "strain": "BHUV1/2008/HUN"},
      {"position": 4593, "similarity": 0.713, "strain": "BHUV1/2008/HUN"},
      {"position": 4615, "similarity": 0.72, "strain": "BHUV1/2008/HUN"},
      {"position": 4640, "similarity": 0.723, "strain": "BHUV1/2008/HUN"},
      {"position": 4655, "similarity": 0.715, "strain": "BHUV1/2008/HUN"},
      {"position": 4671, "similarity": 0.708, "strain": "BHUV1/2008/HUN"},
      {"position": 4685, "similarity": 0.72, "strain": "BHUV1/2008/HUN"},
      {"position": 4702, "similarity": 0.729, "strain": "BHUV1/2008/HUN"},
      {"position": 4718, "similarity": 0.735, "strain": "BHUV1/2008/HUN"},
      {"position": 4733, "similarity": 0.741, "strain": "BHUV1/2008/HUN"},
      {"position": 4750, "similarity": 0.72, "strain": "BHUV1/2008/HUN"},
      {"position": 4764, "similarity": 0.708, "strain": "BHUV1/2008/HUN"},
      {"position": 4780, "similarity": 0.69, "strain": "BHUV1/2008/HUN"},
      {"position": 4796, "similarity": 0.672, "strain": "BHUV1/2008/HUN"},
      {"position": 4827, "similarity": 0.627, "strain": "BHUV1/2008/HUN"},
      {"position": 4845, "similarity": 0.59, "strain": "BHUV1/2008/HUN"},
      {"position": 4858, "similarity": 0.576, "strain": "BHUV1/2008/HUN"},
      {"position": 4875, "similarity": 0.59, "strain": "BHUV1/2008/HUN"},
      {"position": 4889, "similarity": 0.596, "strain": "BHUV1/2008/HUN"},
      {"position": 4905, "similarity": 0.55, "strain": "BHUV1/2008/HUN"},
      {"position": 4920, "similarity": 0.504, "strain": "BHUV1/2008/HUN"},
      {"position": 4945, "similarity": 0.47, "strain": "BHUV1/2008/HUN"},
      {"position": 4967, "similarity": 0.448, "strain": "BHUV1/2008/HUN"},
      {"position": 4990, "similarity": 0.47, "strain": "BHUV1/2008/HUN"},
      {"position": 5014, "similarity": 0.484, "strain": "BHUV1/2008/HUN"},
      {"position": 5030, "similarity": 0.51, "strain": "BHUV1/2008/HUN"},
      {"position": 5045, "similarity": 0.524, "strain": "BHUV1/2008/HUN"},
      {"position": 5070, "similarity": 0.5, "strain": "BHUV1/2008/HUN"},
      {"position": 5092, "similarity": 0.494, "strain": "BHUV1/2008/HUN"},
      {"position": 5115, "similarity": 0.5, "strain": "BHUV1/2008/HUN"},
      {"position": 5139, "similarity": 0.499, "strain": "BHUV1/2008/HUN"},
      {"position": 5160, "similarity": 0.56, "strain": "BHUV1/2008/HUN"},
      {"position": 5176, "similarity": 0.606, "strain": "BHUV1/2008/HUN"},
      {"position": 5195, "similarity": 0.59, "strain": "BHUV1/2008/HUN"},
      {"position": 5217, "similarity": 0.57, "strain": "BHUV1/2008/HUN"},
      {"position": 5232, "similarity": 0.55, "strain": "BHUV1/2008/HUN"},
      {"position": 5248, "similarity": 0.535, "strain": "BHUV1/2008/HUN"},
      {"position": 5265, "similarity": 0.51, "strain": "BHUV1/2008/HUN"},
      {"position": 5280, "similarity": 0.504, "strain": "BHUV1/2008/HUN"},
      {"position": 5295, "similarity": 0.515, "strain": "BHUV1/2008/HUN"},
      {"position": 5311, "similarity": 0.519, "strain": "BHUV1/2008/HUN"},
      {"position": 5335, "similarity": 0.5, "strain": "BHUV1/2008/HUN"},
      {"position": 5358, "similarity": 0.494, "strain": "BHUV1/2008/HUN"},
      {"position": 5375, "similarity": 0.46, "strain": "BHUV1/2008/HUN"},
      {"position": 5389, "similarity": 0.433, "strain": "BHUV1/2008/HUN"},
      {"position": 5405, "similarity": 0.4, "strain": "BHUV1/2008/HUN"},
      {"position": 5420, "similarity": 0.382, "strain": "BHUV1/2008/HUN"},
      {"position": 5435, "similarity": 0.34, "strain": "BHUV1/2008/HUN"},
      {"position": 5445, "similarity": 0.315, "strain": "BHUV1/2008/HUN"},
      {"position": 5455, "similarity": 0.35, "strain": "BHUV1/2008/HUN"},
      {"position": 5467, "similarity": 0.371, "strain": "BHUV1/2008/HUN"},
      {"position": 5480, "similarity": 0.42, "strain": "BHUV1/2008/HUN"},
      {"position": 5498, "similarity": 0.453, "strain": "BHUV1/2008/HUN"},
      {"position": 5515, "similarity": 0.49, "strain": "BHUV1/2008/HUN"},
      {"position": 5529, "similarity": 0.514, "strain": "BHUV1/2008/HUN"},
      {"position": 5537, "similarity": 0.48, "strain": "BHUV1/2008/HUN"},
      {"position": 5545, "similarity": 0.463, "strain": "BHUV1/2008/HUN"},
      {"position": 5558, "similarity": 0.5, "strain": "BHUV1/2008/HUN"},
      {"position": 5570, "similarity": 0.524, "strain": "BHUV1/2008/HUN"},
      {"position": 5580, "similarity": 0.5, "strain": "BHUV1/2008/HUN"},
      {"position": 5592, "similarity": 0.484, "strain": "BHUV1/2008/HUN"},
      {"position": 5605, "similarity": 0.47, "strain": "BHUV1/2008/HUN"},
      {"position": 5623, "similarity": 0.473, "strain": "BHUV1/2008/HUN"},
      {"position": 5640, "similarity": 0.53, "strain": "BHUV1/2008/HUN"},
      {"position": 5654, "similarity": 0.576, "strain": "BHUV1/2008/HUN"},
      {"position": 5670, "similarity": 0.55, "strain": "BHUV1/2008/HUN"},
      {"position": 5686, "similarity": 0.535, "strain": "BHUV1/2008/HUN"},
      {"position": 5700, "similarity": 0.47, "strain": "BHUV1/2008/HUN"},
      {"position": 5717, "similarity": 0.423, "strain": "BHUV1/2008/HUN"},
      {"position": 5732, "similarity": 0.402, "strain": "BHUV1/2008/HUN"},
      {"position": 5748, "similarity": 0.45, "strain": "BHUV1/2008/HUN"},
      {"position": 5763, "similarity": 0.494, "strain": "BHUV1/2008/HUN"},
      {"position": 5779, "similarity": 0.52, "strain": "BHUV1/2008/HUN"},
      {"position": 5795, "similarity": 0.545, "strain": "BHUV1/2008/HUN"},
      {"position": 5820, "similarity": 0.581, "strain": "BHUV1/2008/HUN"},
      {"position": 5840, "similarity": 0.55, "strain": "BHUV1/2008/HUN"},
      {"position": 5858, "similarity": 0.54, "strain": "BHUV1/2008/HUN"},
      {"position": 5870, "similarity": 0.56, "strain": "BHUV1/2008/HUN"},
      {"position": 5883, "similarity": 0.576, "strain": "BHUV1/2008/HUN"},
      {"position": 5914, "similarity": 0.586, "strain": "BHUV1/2008/HUN"},
      {"position": 5935, "similarity": 0.59, "strain": "BHUV1/2008/HUN"},
      {"position": 5961, "similarity": 0.591, "strain": "BHUV1/2008/HUN"},
      {"position": 5985, "similarity": 0.585, "strain": "BHUV1/2008/HUN"},
      {"position": 6001, "similarity": 0.576, "strain": "BHUV1/2008/HUN"},
      {"position": 6023, "similarity": 0.632, "strain": "BHUV1/2008/HUN"},
      {"position": 6045, "similarity": 0.66, "strain": "BHUV1/2008/HUN"},
      {"position": 6064, "similarity": 0.683, "strain": "BHUV1/2008/HUN"},
      {"position": 6075, "similarity": 0.675, "strain": "BHUV1/2008/HUN"},
      {"position": 6086, "similarity": 0.667, "strain": "BHUV1/2008/HUN"},
      {"position": 6107, "similarity": 0.627, "strain": "BHUV1/2008/HUN"},
      {"position": 6132, "similarity": 0.586, "strain": "BHUV1/2008/HUN"},
      {"position": 6150, "similarity": 0.6, "strain": "BHUV1/2008/HUN"},
      {"position": 6164, "similarity": 0.606, "strain": "BHUV1/2008/HUN"},
      {"position": 6180, "similarity": 0.59, "strain": "BHUV1/2008/HUN"},
      {"position": 6201, "similarity": 0.576, "strain": "BHUV1/2008/HUN"},
      {"position": 6220, "similarity": 0.56, "strain": "BHUV1/2008/HUN"},
      {"position": 6242, "similarity": 0.54, "strain": "BHUV1/2008/HUN"},
      {"position": 6258, "similarity": 0.53, "strain": "BHUV1/2008/HUN"},
      {"position": 6273, "similarity": 0.519, "strain": "BHUV1/2008/HUN"},
      {"position": 6290, "similarity": 0.54, "strain": "BHUV1/2008/HUN"},
      {"position": 6304, "similarity": 0.576, "strain": "BHUV1/2008/HUN"},
      {"position": 6320, "similarity": 0.62, "strain": "BHUV1/2008/HUN"},
      {"position": 6335, "similarity": 0.657, "strain": "BHUV1/2008/HUN"},
      {"position": 6350, "similarity": 0.68, "strain": "BHUV1/2008/HUN"},
      {"position": 6367, "similarity": 0.698, "strain": "BHUV1/2008/HUN"},
      {"position": 6390, "similarity": 0.73, "strain": "BHUV1/2008/HUN"},
      {"position": 6413, "similarity": 0.764, "strain": "BHUV1/2008/HUN"},
      {"position": 6430, "similarity": 0.79, "strain": "BHUV1/2008/HUN"},
      {"position": 6451, "similarity": 0.82, "strain": "BHUV1/2008/HUN"},
      {"position": 6465, "similarity": 0.8, "strain": "BHUV1/2008/HUN"},
      {"position": 6482, "similarity": 0.79, "strain": "BHUV1/2008/HUN"},
      {"position": 6500, "similarity": 0.8, "strain": "BHUV1/2008/HUN"},
      {"position": 6523, "similarity": 0.805, "strain": "BHUV1/2008/HUN"},
      {"position": 6545, "similarity": 0.8, "strain": "BHUV1/2008/HUN"},
      {"position": 6570, "similarity": 0.795, "strain": "BHUV1/2008/HUN"},
      {"position": 6595, "similarity": 0.805, "strain": "BHUV1/2008/HUN"},
      {"position": 6616, "similarity": 0.81, "strain": "BHUV1/2008/HUN"},
      {"position": 6640, "similarity": 0.805, "strain": "BHUV1/2008/HUN"},
      {"position": 6663, "similarity": 0.8, "strain": "BHUV1/2008/HUN"},
      {"position": 6690, "similarity": 0.795, "strain": "BHUV1/2008/HUN"},
      {"position": 6710, "similarity": 0.79, "strain": "BHUV1/2008/HUN"},
      {"position": 6735, "similarity": 0.775, "strain": "BHUV1/2008/HUN"},
      {"position": 6757, "similarity": 0.759, "strain": "BHUV1/2008/HUN"},
      {"position": 6780, "similarity": 0.745, "strain": "BHUV1/2008/HUN"},
      {"position": 6804, "similarity": 0.734, "strain": "BHUV1/2008/HUN"},
      {"position": 6830, "similarity": 0.735, "strain": "BHUV1/2008/HUN"},
      {"position": 6850, "similarity": 0.734, "strain": "BHUV1/2008/HUN"},
      {"position": 6875, "similarity": 0.75, "strain": "BHUV1/2008/HUN"},
      {"position": 6897, "similarity": 0.764, "strain": "BHUV1/2008/HUN"},
      {"position": 6920, "similarity": 0.79, "strain": "BHUV1/2008/HUN"},
      {"position": 6938, "similarity": 0.815, "strain": "BHUV1/2008/HUN"},
      {"position": 6960, "similarity": 0.815, "strain": "BHUV1/2008/HUN"},
      {"position": 6975, "similarity": 0.81, "strain": "BHUV1/2008/HUN"},
      {"position": 7000, "similarity": 0.79, "strain": "BHUV1/2008/HUN"},
      {"position": 7022, "similarity": 0.769, "strain": "BHUV1/2008/HUN"},
      {"position": 7045, "similarity": 0.76, "strain": "BHUV1/2008/HUN"},
      {"position": 7069, "similarity": 0.754, "strain": "BHUV1/2008/HUN"},
      {"position": 7085, "similarity": 0.735, "strain": "BHUV1/2008/HUN"},
      {"position": 7100, "similarity": 0.718, "strain": "BHUV1/2008/HUN"},
      {"position": 7112, "similarity": 0.7, "strain": "BHUV1/2008/HUN"},
      {"position": 7125, "similarity": 0.678, "strain": "BHUV1/2008/HUN"},
      {"position": 7145, "similarity": 0.69, "strain": "BHUV1/2008/HUN"},
      {"position": 7163, "similarity": 0.698, "strain": "BHUV1/2008/HUN"},
      {"position": 7185, "similarity": 0.73, "strain": "BHUV1/2008/HUN"},
      {"position": 7210, "similarity": 0.764, "strain": "BHUV1/2008/HUN"},
      {"position": 7235, "similarity": 0.78, "strain": "BHUV1/2008/HUN"},
      {"position": 7256, "similarity": 0.79, "strain": "BHUV1/2008/HUN"},
      {"position": 7280, "similarity": 0.788, "strain": "BHUV1/2008/HUN"},
      {"position": 7303, "similarity": 0.785, "strain": "BHUV1/2008/HUN"},
      {"position": 7325, "similarity": 0.8, "strain": "BHUV1/2008/HUN"},
      {"position": 7344, "similarity": 0.815, "strain": "BHUV1/2008/HUN"},
      {"position": 7362, "similarity": 0.79, "strain": "BHUV1/2008/HUN"},
      {"position": 7381, "similarity": 0.769, "strain": "BHUV1/2008/HUN"},
      {"position": 7398, "similarity": 0.75, "strain": "BHUV1/2008/HUN"},
      {"position": 7412, "similarity": 0.729, "strain": "BHUV1/2008/HUN"},
      {"position": 7425, "similarity": 0.72, "strain": "BHUV1/2008/HUN"},
      {"position": 7437, "similarity": 0.713, "strain": "BHUV1/2008/HUN"},
      {"position": 7455, "similarity": 0.74, "strain": "BHUV1/2008/HUN"},
      {"position": 7475, "similarity": 0.764, "strain": "BHUV1/2008/HUN"},
      {"position": 7490, "similarity": 0.775, "strain": "BHUV1/2008/HUN"},
      {"position": 7506, "similarity": 0.779, "strain": "BHUV1/2008/HUN"},
      {"position": 7520, "similarity": 0.775, "strain": "BHUV1/2008/HUN"},
      {"position": 7537, "similarity": 0.769, "strain": "BHUV1/2008/HUN"},
      {"position": 7550, "similarity": 0.785, "strain": "BHUV1/2008/HUN"},
      {"position": 7562, "similarity": 0.805, "strain": "BHUV1/2008/HUN"},
      {"position": 7575, "similarity": 0.81, "strain": "BHUV1/2008/HUN"},
      {"position": 7594, "similarity": 0.826, "strain": "BHUV1/2008/HUN"}
    ]
  },
  "resolve": {"axis": {"x": "independent", "y": "independent"}},
  "layer": [
    {
      "data": {"values": [{}]},
      "mark": {"type": "rect", "fillOpacity": 0, "stroke": "#333333", "strokeWidth": 1.3},
      "encoding": {
        "x": {"datum": 0, "type": "quantitative", "scale": {"domain": [0, 7700], "nice": false, "zero": false},
          "axis": {"orient": "bottom", "values": [100,200,300,400,600,700,800,900,1100,1200,1300,1400,1600,1700,1800,1900,2100,2200,2300,2400,2600,2700,2800,2900,3100,3200,3300,3400,3600,3700,3800,3900,4100,4200,4300,4400,4600,4700,4800,4900,5100,5200,5300,5400,5600,5700,5800,5900,6100,6200,6300,6400,6600,6700,6800,6900,7100,7200,7300,7400,7600],
            "labels": false, "domain": false, "ticks": true, "tickSize": 3, "tickColor": "#666666", "tickWidth": 1, "title": null}},
        "x2": {"datum": 7700},
        "y": {"datum": 0.0082, "type": "quantitative", "scale": {"domain": [0.0082, 1.652], "nice": false, "zero": false},
          "axis": {"orient": "left", "values": [0.02,0.04,0.06,0.08,0.12,0.14,0.16,0.18,0.22,0.24,0.26,0.28,0.32,0.34,0.36,0.38,0.42,0.44,0.46,0.48,0.52,0.54,0.56,0.58,0.62,0.64,0.66,0.68,0.72,0.74,0.76,0.78,0.82,0.84,0.86,0.88,0.92,0.94,0.96,0.98],
            "labels": false, "domain": false, "ticks": true, "tickSize": 3, "tickColor": "#666666", "tickWidth": 1, "title": null}},
        "y2": {"datum": 1.0}
      }
    },
    {
      "data": {"name": "dividers"},
      "mark": {"type": "rule", "color": "#111111", "strokeWidth": 1.5},
      "encoding": {
        "x": {"field": "position", "type": "quantitative", "axis": null},
        "y": {"datum": 0.0082, "axis": null},
        "y2": {"datum": 1.0}
      }
    },
    {
      "data": {"name": "sim"},
      "mark": {"type": "line", "strokeWidth": 2.3, "interpolate": "linear"},
      "encoding": {
        "x": {"field": "position", "type": "quantitative", "scale": {"domain": [0, 7700], "nice": false, "zero": false},
          "axis": {"orient": "bottom", "values": [0,500,1000,1500,2000,2500,3000,3500,4000,4500,5000,5500,6000,6500,7000,7500], "format": ",d",
            "domain": true, "domainColor": "#000000", "domainWidth": 2.5, "tickColor": "#555555", "tickSize": 5, "tickWidth": 1.2,
            "labelFont": "Liberation Sans", "labelFontSize": 12, "labelColor": "#3a3a3a", "labelPadding": 8, "labelFlush": false, "labelOverlap": false,
            "title": "Position", "titleFont": "Liberation Sans", "titleFontSize": 12, "titleFontWeight": "normal", "titleColor": "#111111", "titlePadding": 7}},
        "y": {"field": "similarity", "type": "quantitative", "scale": {"domain": [0.0082, 1.652], "nice": false, "zero": false},
          "axis": {"orient": "left", "values": [0.1,0.2,0.3,0.4,0.5,0.6,0.7,0.8,0.9,1.0], "format": ".1f",
            "domain": false, "tickColor": "#555555", "tickSize": 5, "tickWidth": 1.2,
            "labelFont": "Liberation Sans", "labelFontSize": 12, "labelColor": "#3a3a3a", "labelPadding": 2, "labelFlush": false, "labelOverlap": false,
            "title": "Similarity", "titleFont": "Liberation Sans", "titleFontSize": 12, "titleFontWeight": "normal", "titleColor": "#111111",
            "titleX": -45, "titleY": 375, "titleAngle": -90, "titleAlign": "center", "titleBaseline": "middle"}},
        "color": {"field": "strain", "type": "nominal",
          "scale": {"domain": ["RatHuV/YY12/CHN", "BHUV1/2008/HUN"], "range": ["#ff0000", "#008000"]},
          "legend": {"orient": "none", "legendX": 637, "legendY": 425, "title": null, "padding": 0, "offset": 0,
            "symbolType": "stroke", "symbolSize": 1000, "symbolStrokeWidth": 3.5,
            "labelFont": "Liberation Serif", "labelFontWeight": "bold", "labelFontSize": 16, "labelColor": "#111111", "labelOffset": 6, "rowPadding": -4}}
      }
    },
    {
      "data": {"values": [{}]},
      "mark": {"type": "rule", "color": "#000000", "strokeWidth": 2.5},
      "encoding": {
        "x": {"datum": 0, "type": "quantitative", "axis": null},
        "y": {"datum": 0.0082, "axis": null},
        "y2": {"datum": 1.0}
      }
    },
    {
      "data": {"values": [{"label": "SimPlot Query: rat/NYc-E21/USA/2012/KJ950971.1", "position": 4212}]},
      "mark": {"type": "text", "font": "Liberation Sans", "fontSize": 14.5, "color": "#111111", "align": "left", "baseline": "middle"},
      "encoding": {
        "x": {"field": "position", "type": "quantitative", "axis": null},
        "y": {"datum": 0.0816, "axis": null},
        "text": {"field": "label"}
      }
    },
    {
      "data": {"values": [{"label": "Window: 200 bp, Step: 20 bp, GapStrip: On, Kimura (2-parameter), T/t: 2.0", "position": 7644}]},
      "mark": {"type": "text", "font": "Liberation Sans", "fontSize": 13, "color": "#3c3cf0", "align": "right", "baseline": "middle"},
      "encoding": {
        "x": {"field": "position", "type": "quantitative", "axis": null},
        "y": {"datum": -0.1755, "axis": null},
        "text": {"field": "label"}
      }
    },
    {
      "data": {"values": [{"label": "(A)", "position": -534, "level": 1.615}, {"label": "(B)", "position": -534, "level": 1.061}]},
      "mark": {"type": "text", "font": "Liberation Serif", "fontWeight": "bold", "fontSize": 15, "color": "#111111", "align": "left", "baseline": "middle"},
      "encoding": {
        "x": {"field": "position", "type": "quantitative", "axis": null},
        "y": {"field": "level", "type": "quantitative", "axis": null},
        "text": {"field": "label"}
      }
    },
    {
      "data": {"name": "regions"},
      "mark": {"type": "rect", "color": "#0c2a6a", "cornerRadius": 3},
      "encoding": {
        "x": {"field": "start", "type": "quantitative", "axis": null},
        "x2": {"field": "end"},
        "y": {"datum": 1.5112, "axis": null},
        "y2": {"datum": 1.5403}
      }
    },
    {
      "data": {"name": "regions"},
      "mark": {"type": "rule", "color": "#1d4fa8", "strokeWidth": 1.6},
      "encoding": {
        "x": {"field": "peak", "type": "quantitative", "axis": null},
        "y": {"datum": 1.5403, "axis": null},
        "y2": {"datum": 1.5816}
      }
    },
    {
      "data": {"name": "regions"},
      "mark": {"type": "text", "font": "Liberation Serif", "fontWeight": "bold", "fontSize": 16, "color": "#111111", "align": "center", "baseline": "middle"},
      "encoding": {
        "x": {"field": "lx", "type": "quantitative", "axis": null},
        "y": {"datum": 1.6214, "axis": null},
        "text": {"field": "name"}
      }
    },
    {
      "data": {"name": "utr"},
      "mark": {"type": "rule", "color": "#000000", "strokeWidth": 2.5},
      "encoding": {
        "x": {"field": "from", "type": "quantitative", "axis": null},
        "x2": {"field": "to"},
        "y": {"datum": 1.3551, "axis": null}
      }
    },
    {
      "data": {"name": "segments"},
      "mark": {"type": "rect", "fill": "#fbd4b4", "stroke": "#000000", "strokeWidth": 2.2},
      "encoding": {
        "x": {"field": "start", "type": "quantitative", "axis": null},
        "x2": {"field": "end"},
        "y": {"datum": 1.2969, "axis": null},
        "y2": {"datum": 1.4286}
      }
    },
    {
      "data": {"name": "segments"},
      "mark": {"type": "text", "font": "Liberation Serif", "fontWeight": "bold", "fontSize": 16, "color": "#111111", "align": "center", "baseline": "middle"},
      "encoding": {
        "x": {"field": "lx", "type": "quantitative", "axis": null},
        "y": {"datum": 1.4622, "axis": null},
        "text": {"field": "gene"}
      }
    },
    {
      "data": {"name": "segments"},
      "mark": {"type": "text", "font": "Liberation Serif", "fontWeight": "bold", "fontSize": 11, "color": "#111111", "align": "center", "baseline": "middle"},
      "encoding": {
        "x": {"field": "lx", "type": "quantitative", "axis": null},
        "y": {"datum": 1.3827, "axis": null},
        "text": {"field": "nt"}
      }
    },
    {
      "data": {"name": "segments"},
      "mark": {"type": "text", "font": "Liberation Serif", "fontWeight": "bold", "fontSize": 11, "color": "#111111", "align": "center", "baseline": "middle"},
      "encoding": {
        "x": {"field": "lx", "type": "quantitative", "axis": null},
        "y": {"datum": 1.3383, "axis": null},
        "text": {"field": "aa"}
      }
    },
    {
      "data": {"name": "utr"},
      "mark": {"type": "text", "font": "Liberation Serif", "fontWeight": "bold", "fontSize": 10, "color": "#111111", "align": "center", "baseline": "middle"},
      "encoding": {
        "x": {"field": "lenx", "type": "quantitative", "axis": null},
        "y": {"datum": 1.3918, "axis": null},
        "text": {"field": "len"}
      }
    },
    {
      "data": {"name": "utr"},
      "mark": {"type": "text", "font": "Liberation Serif", "fontWeight": "bold", "fontSize": 18, "color": "#111111", "align": "center", "baseline": "middle"},
      "encoding": {
        "x": {"field": "tagx", "type": "quantitative", "axis": null},
        "y": {"datum": 1.352, "axis": null},
        "text": {"field": "tag"}
      }
    },
    {
      "data": {"name": "cleavages"},
      "mark": {"type": "rule", "color": "#111111", "strokeWidth": 1.4},
      "encoding": {
        "x": {"field": "base", "type": "quantitative", "axis": null},
        "x2": {"field": "tip"},
        "y": {"datum": 1.1531, "axis": null},
        "y2": {"datum": 1.2724}
      }
    },
    {
      "data": {"name": "cleavages"},
      "mark": {"type": "point", "shape": "M-0.8,1.2L0,0L0.8,1.2", "filled": false, "size": 100, "color": "#111111", "strokeWidth": 1.4, "opacity": 1},
      "encoding": {
        "x": {"field": "tip", "type": "quantitative", "axis": null},
        "y": {"datum": 1.2724, "axis": null},
        "angle": {"field": "angle", "type": "quantitative", "scale": null}
      }
    },
    {
      "data": {"name": "cleavages"},
      "mark": {"type": "text", "font": "Liberation Serif", "fontWeight": "bold", "fontSize": 17, "color": "#111111", "align": "center", "baseline": "middle"},
      "encoding": {
        "x": {"field": "lx", "type": "quantitative", "axis": null},
        "y": {"datum": 1.1041, "axis": null},
        "text": {"field": "site"}
      }
    }
  ]
}
